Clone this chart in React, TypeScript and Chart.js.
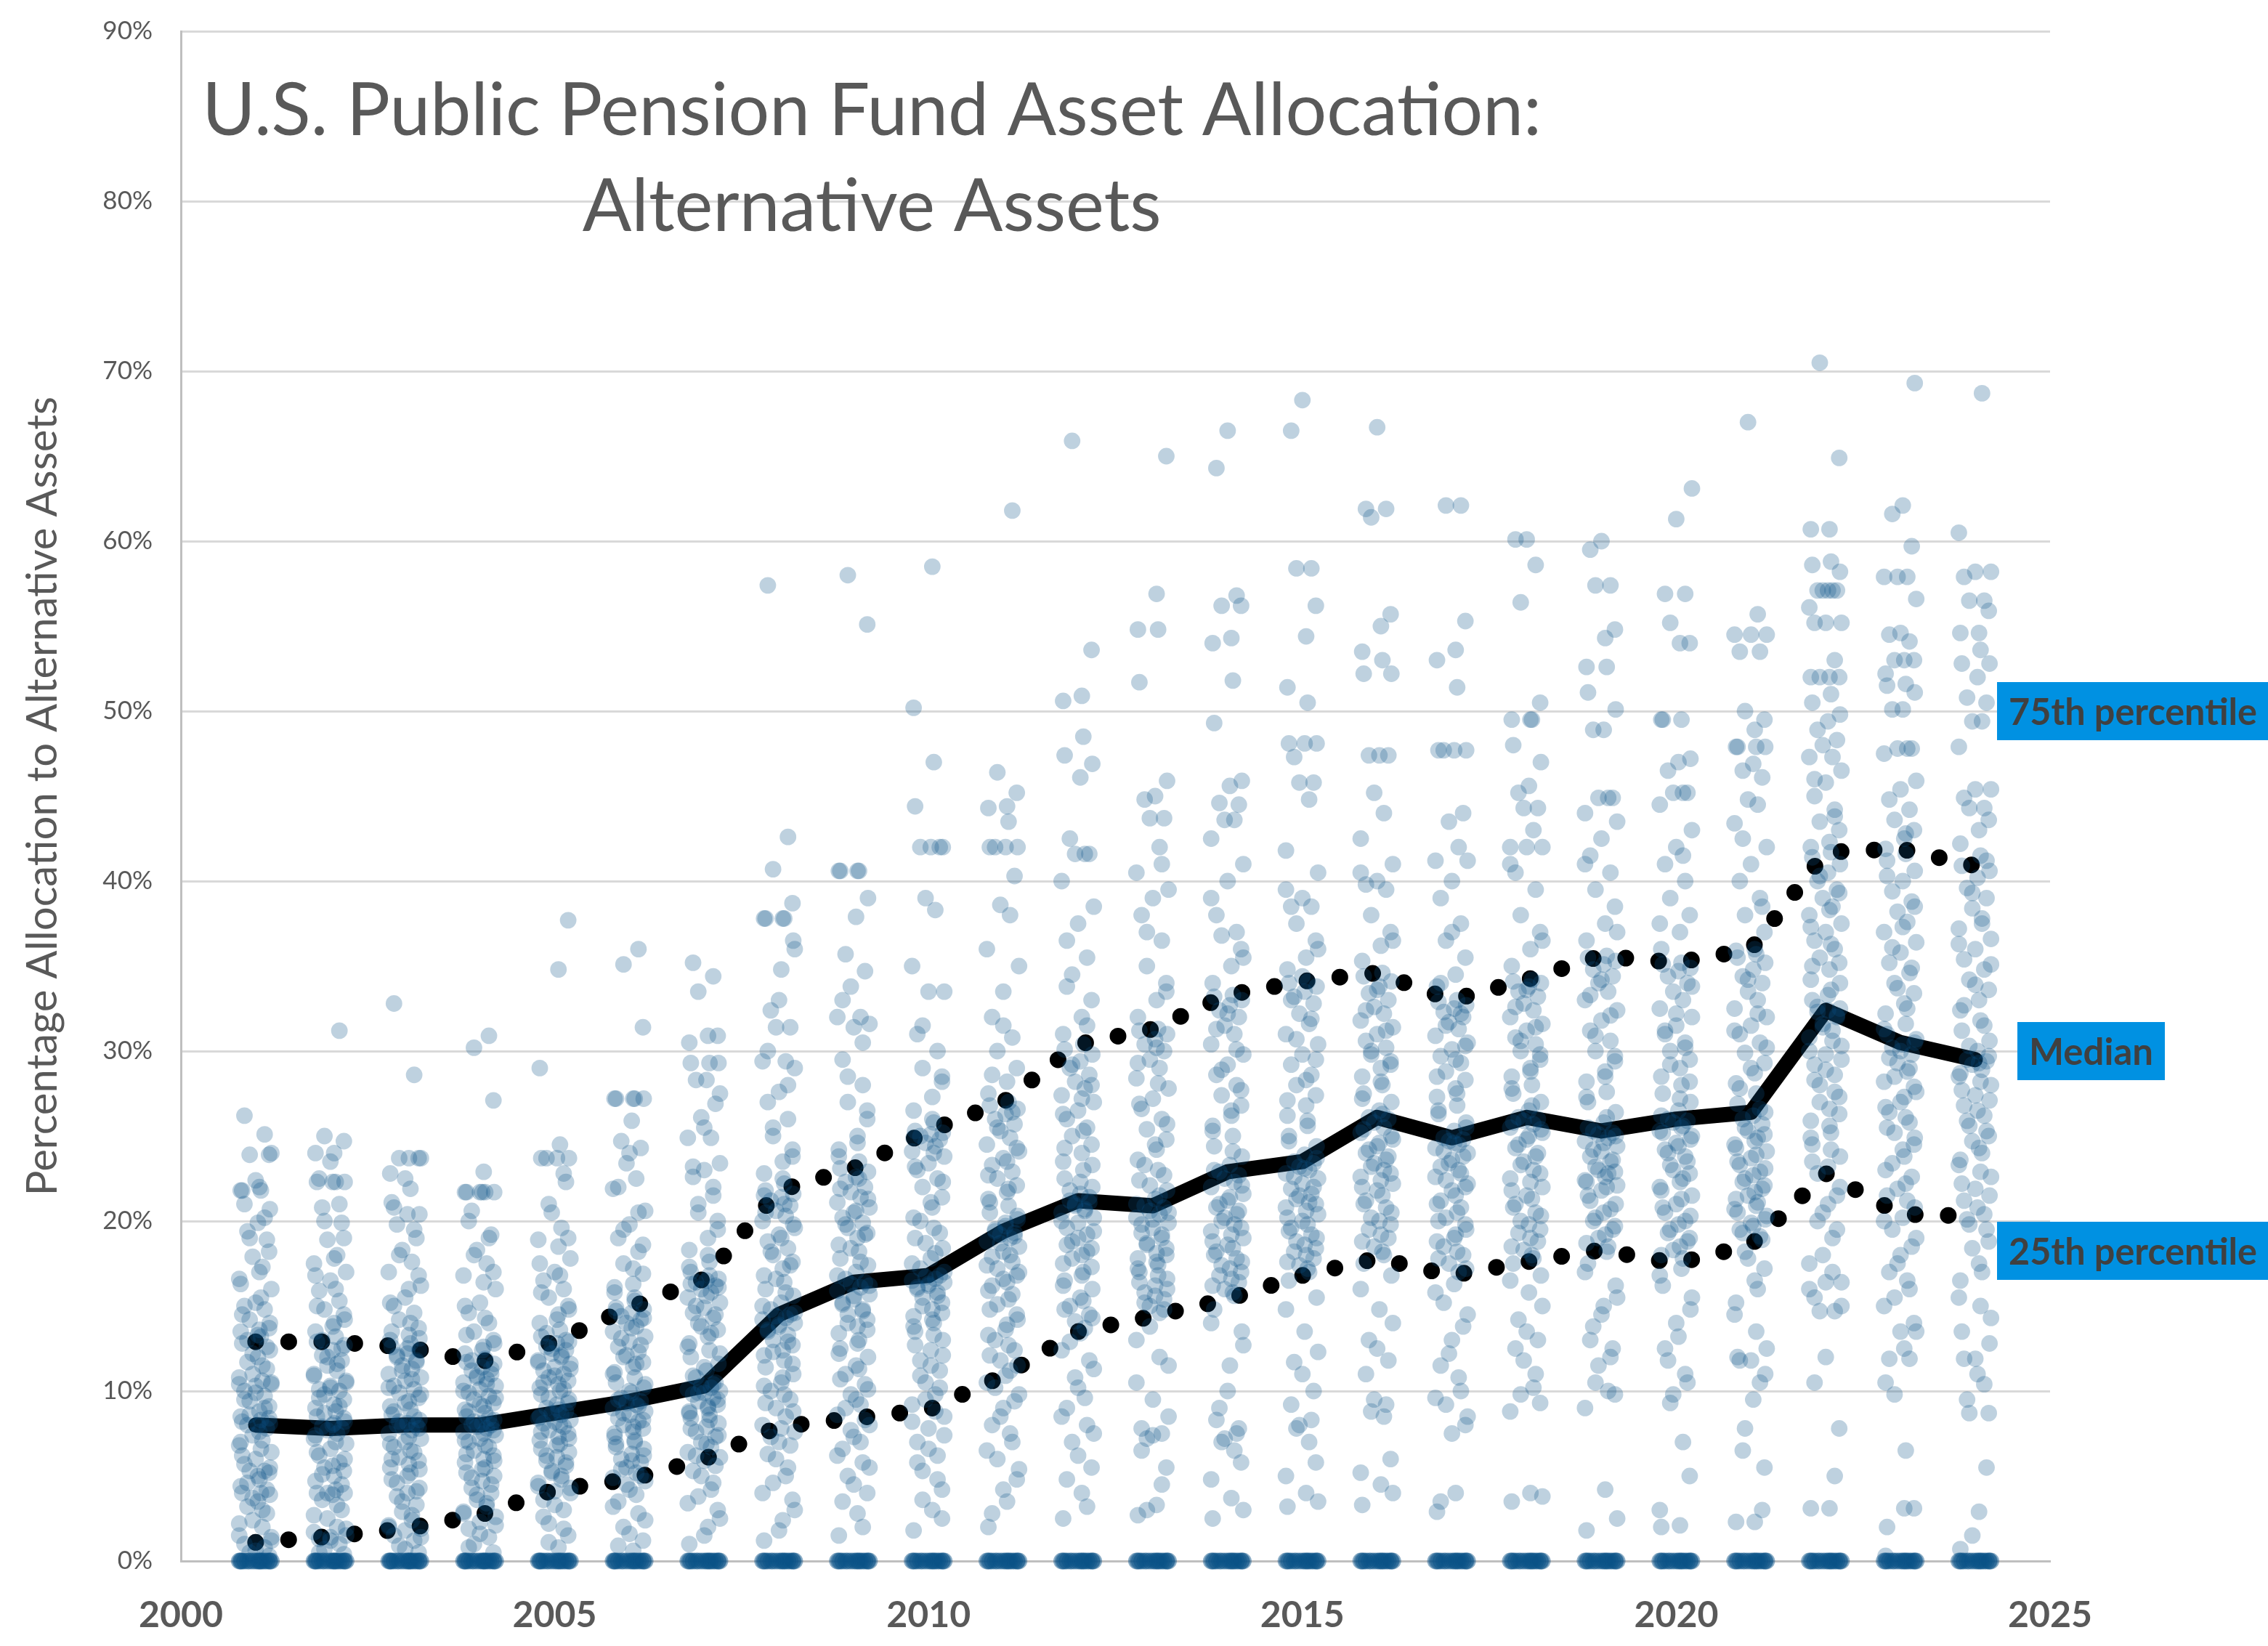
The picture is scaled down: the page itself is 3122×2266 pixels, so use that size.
import React, { useEffect, useRef } from 'react';
import Chart from 'chart.js/auto';

// fiscal years shown on the chart
const YEARS = [2001, 2002, 2003, 2004, 2005, 2006, 2007, 2008, 2009, 2010, 2011, 2012,
  2013, 2014, 2015, 2016, 2017, 2018, 2019, 2020, 2021, 2022, 2023, 2024];

// percentile lines (% of assets in alternatives)
const MEDIAN = [8.0, 7.8, 8.0, 8.0, 8.7, 9.4, 10.3, 14.5, 16.4, 16.8, 19.4, 21.2,
  20.9, 22.9, 23.5, 26.1, 24.9, 26.1, 25.3, 26.0, 26.4, 32.4, 30.5, 29.5];
const P75 = [12.9, 12.9, 12.6, 11.7, 12.9, 14.9, 16.6, 21.8, 23.1, 25.3, 27.0, 30.4,
  31.3, 33.3, 34.1, 34.6, 33.0, 34.2, 35.6, 35.2, 36.0, 41.7, 41.9, 40.9];
const P25 = [1.1, 1.45, 1.9, 2.7, 4.2, 4.8, 6.0, 7.9, 8.4, 8.9, 10.9, 13.5,
  14.4, 15.4, 16.8, 17.8, 16.8, 17.6, 18.3, 17.5, 18.6, 22.8, 20.4, 20.3];

// plans reporting no alternatives at all, per year
const ZERO_COUNTS = [36, 36, 36, 36, 35, 35, 34, 34, 34, 34, 34, 34, 34, 34, 34, 34, 34, 34, 34, 34, 34, 34, 34, 34];

// individual plan allocations above zero, per year
const V2001 = [0.3,0.5,0.8,1.0,1.1,1.2,1.5,2.0,2.4,2.8,3.2,3.5,3.9,4.0,4.0,4.4,4.8,5.2,5.3,5.3,5.7,6.0,6.4,6.8,7.1,7.4,7.8,8.0,8.0,8.1,8.2,8.3,8.5,8.8,9.1,9.4,9.7,10.0,10.3,10.4,10.4,10.6,11.0,11.3,11.7,12.0,12.4,12.8,13.2,13.5,13.6,13.7,14.2,14.8,15.0,15.2,16.0,16.6,17.3,17.9,18.9,19.4,19.9,20.7,21.8,21.8,21.8,22.0,23.9,23.9,25.1,26.2,
  0.6,1.4,2.2,3.0,3.7,4.2,4.6,5.0,5.5,6.2,6.6,7.0,7.6,8.4,8.6,9.0,9.5,9.9,10.5,10.8,11.5,12.2,12.6,13.0,13.3,14.0,14.5,15.5,16.3,17.0,18.2,19.0,20.2,21.0,22.4,24.0];
const V2002 = [0.4,0.7,1.0,1.3,1.4,1.5,1.7,2.0,2.5,3.0,3.6,3.9,4.0,4.0,4.2,4.7,5.0,5.3,5.5,5.8,6.2,6.6,6.9,7.2,7.5,7.7,7.8,7.9,8.0,8.2,8.5,8.8,9.0,9.2,9.5,9.8,10.0,10.1,10.3,10.6,10.9,11.2,11.5,11.8,12.1,12.4,12.7,12.9,13.2,13.5,14.0,14.5,14.8,15.3,15.9,16.5,17.0,17.5,18.0,18.9,19.9,20.8,22.3,22.3,22.3,22.3,24.0,24.0,24.7,25.0,31.2,
  0.5,1.2,1.9,2.7,3.3,4.0,4.5,5.1,5.6,6.0,6.4,7.0,7.4,8.1,8.4,8.7,9.1,9.6,10.2,10.5,11.0,11.6,12.0,12.5,13.0,13.8,14.2,15.0,16.0,16.8,17.8,19.0,20.0,21.0,22.5,23.5];
const V2003 = [0.5,0.9,1.2,1.5,1.8,1.9,2.1,2.4,2.9,3.3,3.8,4.0,4.3,4.8,5.2,5.5,5.7,5.9,6.1,6.4,6.7,7.0,7.2,7.5,7.7,7.9,8.0,8.0,8.1,8.3,8.6,8.9,9.1,9.4,9.6,9.9,10.1,10.3,10.6,10.8,11.0,11.3,11.5,11.8,12.0,12.2,12.4,12.6,12.8,13.0,13.3,13.7,14.2,14.6,15.0,15.5,16.2,17.0,17.6,18.3,19.0,19.8,20.4,20.4,21.1,21.9,22.8,23.7,23.7,23.7,28.6,32.8,
  0.7,1.4,2.0,2.7,3.5,4.1,4.6,5.0,5.4,6.0,6.5,6.9,7.3,7.8,8.2,8.5,8.8,9.3,9.8,10.2,10.7,11.2,11.7,12.1,12.5,13.1,13.5,14.0,15.2,16.0,16.8,18.0,19.5,20.8,22.5,23.7];
const V2004 = [0.5,1.0,1.4,1.9,2.3,2.6,2.8,3.2,3.6,4.0,4.3,4.7,5.0,5.2,5.5,5.8,6.0,6.2,6.5,6.7,7.0,7.2,7.4,7.6,7.8,7.9,8.0,8.0,8.1,8.3,8.5,8.7,8.9,9.1,9.3,9.5,9.7,9.9,10.1,10.3,10.5,10.7,10.8,11.0,11.2,11.4,11.6,11.7,11.9,12.2,12.6,13.0,13.5,14.0,14.6,15.2,16.0,16.8,17.5,18.3,19.2,20.6,21.7,21.7,21.7,21.7,21.7,22.9,27.1,30.2,30.9,
  0.8,1.6,2.1,2.9,3.4,3.9,4.5,4.9,5.4,5.9,6.3,6.8,7.1,7.5,7.7,8.2,8.4,8.8,9.2,9.6,10.0,10.4,10.9,11.3,11.8,12.4,12.8,13.3,14.3,15.0,16.4,17.0,18.0,19.0,20.0,21.7];
const V2005 = [0.8,1.5,2.2,3.0,3.6,4.1,4.3,4.6,5.0,5.3,5.6,5.9,6.1,6.4,6.6,6.9,7.1,7.3,7.5,7.7,7.9,8.1,8.2,8.3,8.4,8.6,8.7,8.8,9.0,9.2,9.5,9.8,10.0,10.2,10.4,10.6,10.8,11.0,11.2,11.4,11.6,11.8,12.0,12.2,12.4,12.6,12.8,12.9,13.2,13.6,14.0,14.5,15.0,15.5,16.0,16.5,17.0,17.8,18.9,19.6,20.5,22.3,23.7,23.7,23.7,23.7,24.5,29.0,34.8,37.7,
  1.1,1.9,2.6,3.3,4.0,4.4,4.8,5.2,5.8,6.2,6.8,7.2,7.6,8.0,8.5,8.9,9.3,9.6,10.1,10.5,10.9,11.3,11.7,12.1,12.5,13.0,13.4,14.2,14.8,15.8,16.8,17.5,18.5,19.0,21.0,22.8];
const V2006 = [0.6,1.2,2.0,2.8,3.5,4.2,4.7,4.9,5.2,5.5,5.8,6.0,6.3,6.6,6.9,7.1,7.3,7.6,7.8,8.0,8.2,8.4,8.6,8.8,9.0,9.2,9.3,9.4,9.6,9.9,10.2,10.5,10.8,11.1,11.4,11.7,12.0,12.3,12.6,12.9,13.2,13.5,13.8,14.0,14.2,14.4,14.6,14.8,14.9,15.3,15.8,16.3,16.9,17.5,18.2,19.0,19.8,20.6,21.9,22.5,23.4,24.3,24.7,25.9,27.2,27.2,27.2,27.2,27.2,31.4,35.1,36.0,
  0.9,1.6,2.4,3.2,3.9,4.5,5.0,5.4,5.9,6.2,6.7,7.0,7.5,7.9,8.3,8.7,9.1,9.5,10.0,10.4,11.0,11.6,12.1,12.7,13.1,13.7,14.3,14.7,15.5,16.1,17.2,18.6,19.5,20.5,22.0,24.0];
const V2007 = [1.0,2.0,3.0,3.8,4.6,5.3,5.9,6.1,6.4,6.7,7.0,7.3,7.6,7.9,8.1,8.4,8.6,8.8,9.0,9.2,9.4,9.6,9.8,9.9,10.0,10.1,10.2,10.3,10.5,10.8,11.2,11.6,12.0,12.4,12.8,13.2,13.6,14.0,14.3,14.6,14.9,15.2,15.5,15.8,16.0,16.2,16.4,16.5,16.6,17.0,17.6,18.3,19.0,20.0,21.0,22.0,22.6,23.0,23.4,24.9,24.9,26.1,26.9,28.3,28.3,29.3,29.3,29.3,30.5,30.9,30.9,33.5,34.4,35.2,
  1.5,2.5,3.4,4.2,5.0,5.6,6.2,6.9,7.4,7.8,8.3,8.7,9.1,9.5,9.9,10.4,10.9,11.4,12.2,12.6,13.4,13.8,14.5,15.0,15.6,16.1,16.3,16.8,17.3,18.0,19.5,20.5,21.5,23.2,25.5,27.5];
const V2008 = [1.2,2.4,3.6,4.6,5.5,6.3,7.0,7.6,8.0,8.5,9.0,9.5,10.0,10.5,11.0,11.4,11.8,12.1,12.4,12.7,13.0,13.3,13.6,13.8,14.0,14.2,14.3,14.4,14.5,14.8,15.2,15.6,16.0,16.4,16.8,17.2,17.6,18.0,18.4,18.8,19.2,19.6,20.0,20.3,20.6,20.9,21.2,21.4,21.6,21.8,22.2,22.8,23.5,24.2,25.0,26.0,27.0,27.6,29.0,29.4,29.4,31.4,31.4,32.4,34.8,36.5,37.8,37.8,37.8,37.8,38.7,40.7,42.6,57.4,
  1.8,3.0,4.0,5.0,6.0,6.8,7.3,7.8,8.8,9.3,9.8,10.3,10.8,11.6,12.3,12.9,13.5,13.9,14.6,15.0,15.8,16.6,17.4,18.2,19.0,19.8,20.5,21.0,21.5,22.5,23.8,25.5,28.0,30.0,33.0,36.0];
const V2009 = [1.5,2.8,4.0,5.0,5.8,6.6,7.3,8.0,8.6,9.2,9.8,10.4,11.0,11.5,12.0,12.5,13.0,13.4,13.8,14.2,14.5,14.8,15.1,15.4,15.7,15.9,16.1,16.3,16.4,16.6,17.0,17.4,17.8,18.2,18.6,19.0,19.3,19.6,19.9,20.2,20.5,20.8,21.1,21.4,21.7,22.0,22.3,22.6,22.9,23.1,23.5,24.2,25.0,26.0,27.0,28.0,29.5,31.4,31.6,32.0,32.0,33.8,34.7,35.7,37.9,39.0,40.6,40.6,40.6,40.6,55.1,58.0,
  2.0,3.5,4.5,5.5,6.2,7.0,7.7,8.3,9.0,9.5,10.1,10.7,11.3,12.2,12.8,13.6,14.0,14.7,15.2,15.6,16.2,16.8,17.6,18.4,19.2,19.8,20.6,21.3,21.9,22.5,23.8,24.6,26.5,28.5,30.5,33.0];
const V2010 = [1.8,3.0,4.2,5.3,6.2,7.0,7.8,8.5,9.2,9.8,10.5,11.2,11.8,12.4,13.0,13.5,14.0,14.4,14.8,15.2,15.5,15.8,16.0,16.2,16.4,16.5,16.6,16.7,16.8,17.2,17.8,18.4,19.0,19.6,20.2,20.8,21.4,22.0,22.5,23.0,23.4,23.8,24.1,24.4,24.6,24.8,25.0,25.1,25.2,25.3,25.8,26.5,27.3,28.2,29.0,30.0,31.0,33.5,33.5,35.0,38.3,39.0,42.0,42.0,42.0,42.0,44.4,47.0,50.2,58.5,
  2.5,3.6,4.8,5.8,6.6,7.4,8.2,8.8,9.5,10.2,10.9,11.5,12.1,12.7,13.3,13.8,14.2,14.6,15.0,15.6,16.1,16.3,17.0,17.5,18.1,18.7,19.3,20.0,21.1,22.3,23.2,24.0,24.9,26.0,28.5,31.5];
const V2011 = [2.0,3.5,4.8,6.0,7.0,8.0,9.0,9.8,10.5,11.2,11.8,12.4,13.0,13.6,14.2,14.8,15.4,15.9,16.4,16.8,17.2,17.6,17.9,18.2,18.5,18.8,19.0,19.2,19.3,19.4,19.7,20.1,20.5,20.9,21.3,21.7,22.1,22.5,22.9,23.3,23.7,24.1,24.5,24.9,25.3,25.7,26.0,26.3,26.6,26.8,27.0,27.5,28.2,29.0,30.0,30.8,32.0,33.5,35.0,36.0,38.0,38.6,40.3,42.0,42.0,42.0,42.0,43.5,44.3,44.4,45.2,46.4,61.8,
  2.8,4.2,5.4,6.5,7.5,8.5,9.4,10.2,10.9,11.5,12.1,12.7,13.3,13.9,14.5,15.1,15.7,16.2,16.6,17.0,17.4,18.0,18.7,19.1,19.5,19.9,20.3,21.1,21.9,22.7,23.5,24.3,25.5,26.4,28.6,31.5];
const V2012 = [2.5,4.0,5.5,7.0,8.0,9.0,10.2,11.3,12.4,13.7,14.1,14.5,15.0,15.5,16.0,16.5,17.0,17.5,18.0,18.4,18.8,19.2,19.6,19.9,20.2,20.5,20.7,20.9,21.1,21.2,21.6,22.0,22.5,23.0,23.5,24.0,24.5,25.0,25.5,26.0,26.5,27.0,27.4,27.8,28.2,28.6,29.0,29.4,29.8,30.1,30.4,31.0,32.0,33.0,34.5,35.5,36.5,37.5,38.5,40.0,41.6,41.6,41.6,42.5,46.1,46.9,47.4,48.5,50.6,50.9,53.6,65.9,
  3.2,4.8,6.2,7.5,8.5,9.6,10.8,11.8,12.9,13.4,14.3,14.8,15.3,16.2,16.8,17.3,17.8,18.2,18.6,19.0,19.4,20.0,20.6,21.0,21.4,21.8,22.3,23.3,24.3,25.3,26.3,27.2,28.0,29.2,31.5,33.8];
const V2013 = [2.7,3.3,5.5,7.2,7.5,7.8,9.5,11.5,13.0,14.6,15.0,15.4,15.8,16.2,16.6,17.0,17.4,17.8,18.1,18.4,18.7,19.0,19.3,19.6,19.9,20.2,20.4,20.6,20.8,20.9,21.3,21.8,22.4,23.0,23.6,24.2,24.8,25.4,26.0,26.6,27.2,27.8,28.4,29.0,29.5,30.0,30.4,30.7,31.0,31.2,31.3,32.0,33.0,34.0,35.0,36.5,38.0,39.0,39.5,40.5,42.0,43.7,43.7,44.8,45.0,45.9,51.7,54.8,54.8,56.9,65.0,
  3.0,4.5,6.5,7.4,8.5,10.5,12.0,13.8,14.8,15.2,15.6,16.0,16.4,16.8,17.2,17.6,18.0,18.6,19.2,19.8,20.1,20.5,21.0,21.5,22.1,22.7,23.3,24.5,25.7,26.9,28.1,29.3,30.2,33.5,37.0,41.0];
const V2014 = [2.5,3.7,5.8,7.0,7.5,8.3,10.0,12.7,14.0,15.6,16.0,16.4,16.8,17.2,17.6,18.0,18.4,18.8,19.2,19.6,20.0,20.4,20.8,21.2,21.6,22.0,22.3,22.5,22.7,22.9,23.3,23.8,24.4,25.0,25.6,26.2,26.8,27.4,28.0,28.6,29.2,29.8,30.4,31.0,31.5,32.0,32.4,32.7,33.0,33.2,33.3,34.0,35.0,36.0,36.8,37.0,38.0,40.0,41.0,42.5,43.6,43.6,44.5,44.6,45.6,45.9,49.3,51.8,54.0,54.3,56.2,56.2,56.8,64.3,66.5,
  3.0,4.8,6.5,7.2,7.8,9.0,11.5,13.5,14.8,15.8,16.2,16.6,17.0,17.4,17.8,18.2,18.6,19.0,19.4,19.8,20.2,20.6,21.0,21.4,22.1,23.0,24.1,25.3,26.5,27.7,28.9,30.1,31.3,32.2,35.5,39.0];
const V2015 = [3.2,4.0,5.8,7.8,8.3,9.2,11.0,12.3,14.8,17.0,17.4,17.8,18.2,18.6,19.0,19.4,19.8,20.2,20.6,21.0,21.3,21.6,21.9,22.2,22.5,22.8,23.0,23.2,23.4,23.5,23.9,24.4,25.0,25.6,26.2,26.8,27.4,28.0,28.6,29.2,29.8,30.4,31.0,31.6,32.2,32.8,33.2,33.5,33.8,34.0,34.1,34.8,35.5,36.5,37.5,38.5,38.5,39.0,40.5,41.8,44.8,45.8,45.8,47.3,48.1,48.1,48.1,50.5,51.4,54.4,56.2,58.4,58.4,66.5,68.3,
  3.5,5.0,7.0,8.0,10.0,11.7,13.5,15.5,16.5,17.2,17.6,18.0,18.4,18.8,19.2,19.6,20.0,20.4,20.8,21.1,21.5,22.0,22.6,23.1,23.7,24.7,25.9,27.1,28.3,29.5,30.7,31.9,33.0,34.4,36.0,39.5];
const V2016 = [3.3,4.5,6.0,8.8,9.2,11.0,12.5,14.0,16.0,18.0,18.5,19.0,19.5,20.0,20.5,21.0,21.5,22.0,22.4,22.8,23.2,23.6,24.0,24.4,24.8,25.2,25.5,25.8,26.0,26.1,26.5,27.0,27.5,28.0,28.5,29.0,29.4,29.8,30.2,30.6,31.0,31.4,31.8,32.2,32.6,33.0,33.4,33.8,34.1,34.4,34.6,35.3,36.2,37.0,38.0,39.5,39.8,40.0,41.0,42.5,44.0,45.2,47.4,47.4,47.4,52.2,52.2,53.0,53.5,55.0,55.7,61.4,61.9,61.9,66.7,
  4.0,5.2,8.5,9.5,11.8,13.0,14.8,16.8,17.5,18.2,18.8,19.2,19.8,20.2,20.8,21.2,21.8,22.2,22.6,23.0,23.4,23.8,24.2,24.6,25.0,25.4,26.3,27.2,28.2,29.2,30.0,31.2,32.4,33.6,36.5,40.5];
const V2017 = [2.9,4.0,8.0,9.2,10.0,11.5,13.0,14.5,15.8,17.0,17.5,18.0,18.5,19.0,19.5,20.0,20.5,21.0,21.5,22.0,22.4,22.8,23.2,23.6,24.0,24.3,24.5,24.7,24.8,24.9,25.3,25.8,26.3,26.8,27.3,27.8,28.3,28.8,29.3,29.7,30.1,30.5,30.9,31.3,31.7,32.0,32.3,32.5,32.7,32.9,33.0,33.8,34.5,35.5,36.5,37.5,39.0,40.0,41.2,41.2,42.0,43.5,44.0,47.7,47.7,47.7,47.7,51.4,53.0,53.6,55.3,62.1,62.1,
  3.5,7.5,8.5,9.6,10.8,12.2,13.8,15.2,16.3,17.2,17.8,18.2,18.8,19.2,19.8,20.2,20.8,21.2,21.8,22.2,22.6,23.0,23.4,23.8,24.1,24.6,25.5,26.5,27.5,28.5,29.5,30.3,31.5,32.2,34.0,37.0];
const V2018 = [3.5,4.0,9.3,9.8,11.0,12.5,13.5,15.0,16.5,17.8,18.3,18.8,19.3,19.8,20.3,20.8,21.3,21.8,22.3,22.8,23.3,23.8,24.3,24.8,25.2,25.5,25.7,25.9,26.0,26.1,26.5,27.0,27.5,28.0,28.5,29.0,29.5,30.0,30.4,30.8,31.2,31.6,32.0,32.4,32.8,33.2,33.5,33.8,34.0,34.1,34.2,35.0,36.0,37.0,38.0,39.5,40.5,42.0,42.0,42.0,43.0,44.3,44.3,45.2,45.6,47.0,48.0,49.5,49.5,49.5,50.5,56.4,58.6,60.1,60.1,
  3.8,8.8,10.2,11.8,13.0,14.2,15.8,16.8,17.5,18.0,18.5,19.0,19.5,20.0,20.5,21.0,21.5,22.0,22.5,23.0,23.5,24.0,24.5,25.0,25.4,25.8,26.8,27.8,28.8,29.8,30.6,31.4,32.6,33.6,36.5,41.0];
const V2019 = [1.8,4.2,9.8,10.5,12.0,13.0,14.5,15.5,17.0,18.5,19.0,19.5,20.0,20.5,21.0,21.5,22.0,22.3,22.6,22.9,23.2,23.5,23.8,24.1,24.4,24.7,24.9,25.1,25.2,25.3,25.8,26.4,27.0,27.6,28.2,28.8,29.4,30.0,30.6,31.2,31.8,32.4,33.0,33.5,34.0,34.4,34.8,35.1,35.3,35.5,35.6,36.5,37.5,38.5,39.5,40.5,41.5,42.5,43.5,44.0,44.9,44.9,44.9,48.9,48.9,50.1,51.1,52.6,52.6,54.3,54.8,57.4,57.4,59.5,60.0,
  2.5,9.0,10.0,11.5,12.5,13.8,15.0,16.2,17.5,18.2,18.7,19.2,19.7,20.2,20.7,21.2,21.8,22.1,22.4,22.8,23.0,23.6,24.2,24.6,25.0,25.5,26.1,27.3,28.5,29.7,30.9,32.1,33.3,34.2,37.0,41.0];
const V2020 = [2.0,2.1,5.0,9.3,11.0,12.5,14.0,15.5,16.8,17.8,18.3,18.8,19.3,19.8,20.3,20.8,21.3,21.8,22.3,22.8,23.3,23.8,24.2,24.6,25.0,25.3,25.6,25.8,25.9,26.0,26.5,27.0,27.5,28.0,28.5,29.0,29.5,30.0,30.5,31.0,31.5,32.0,32.5,33.0,33.5,34.0,34.4,34.7,34.9,35.1,35.2,36.0,37.0,38.0,39.0,40.0,41.0,42.0,43.0,44.5,45.2,45.2,45.2,46.5,47.0,47.2,49.5,49.5,49.5,54.0,54.0,55.2,56.9,56.9,61.3,63.1,
  3.0,7.0,9.8,10.5,11.8,13.2,14.8,16.2,17.2,18.0,18.5,19.0,19.5,20.0,20.5,21.0,21.5,22.0,22.5,23.0,23.5,24.0,24.4,24.8,25.2,25.5,26.2,27.2,28.2,29.2,30.2,31.2,32.2,33.8,37.5,41.5];
const V2021 = [2.3,2.3,5.5,7.8,10.5,11.8,11.8,12.5,14.5,16.0,17.8,18.9,19.3,19.7,20.1,20.5,20.9,21.3,21.7,22.1,22.5,22.9,23.3,23.7,24.1,24.5,24.9,25.3,25.7,26.0,26.2,26.4,26.9,27.5,28.1,28.7,29.3,29.9,30.5,31.0,31.5,32.0,32.5,33.0,33.5,34.0,34.4,34.8,35.2,35.5,35.7,35.9,36.0,37.0,38.0,39.0,40.0,41.0,42.0,43.4,44.5,44.8,46.1,46.5,46.9,47.9,47.9,47.9,47.9,48.9,49.5,50.0,53.5,53.5,54.5,54.5,54.5,55.7,67.0,
  3.0,6.5,9.5,11.0,12.0,13.5,15.2,16.5,17.2,18.2,19.1,19.5,19.9,20.3,20.7,21.1,21.5,21.9,22.3,22.7,23.1,23.5,23.9,24.3,24.7,25.1,25.5,26.6,27.8,29.0,30.2,31.2,32.2,34.2,38.5,42.5];
const V2022 = [3.1,3.1,7.8,14.7,14.7,15.5,16.4,16.4,17.5,19.0,20.5,21.5,22.8,23.2,23.8,24.5,25.2,25.9,26.6,27.3,28.0,28.6,29.2,29.8,30.3,30.8,31.2,31.6,32.0,32.3,32.4,32.5,33.0,33.6,34.2,34.8,35.2,35.5,36.0,36.5,37.0,37.5,38.0,38.5,39.0,39.5,40.0,40.5,41.0,41.4,41.7,42.0,42.3,43.0,43.5,44.2,45.0,45.8,46.5,47.3,47.3,48.0,48.3,48.9,49.4,49.8,50.5,51.0,52.0,52.0,52.0,52.0,53.0,55.2,55.2,55.2,56.1,57.1,57.1,57.1,57.1,57.1,58.2,58.6,58.8,60.7,60.7,64.9,70.5,
  5.0,10.5,12.0,15.0,16.0,17.0,18.0,19.5,20.0,21.0,22.0,23.5,24.2,24.9,25.6,26.3,27.0,27.6,28.3,28.9,29.5,30.0,30.6,31.4,32.1,32.6,33.3,34.0,35.0,36.3,37.3,38.3,39.3,40.3,43.8,46.0];
const V2023 = [0.3,3.1,3.1,9.8,11.9,11.9,13.5,13.5,15.0,16.5,17.5,18.5,19.5,20.2,20.8,21.5,22.2,23.0,23.8,24.5,25.2,25.8,26.4,27.0,27.6,28.2,28.8,29.3,29.8,30.2,30.4,30.5,31.0,31.6,32.2,32.8,33.4,34.0,34.6,35.2,35.8,36.4,37.0,37.6,38.2,38.8,39.4,40.0,40.6,41.2,41.6,41.9,42.5,43.0,43.6,44.2,44.8,45.4,45.9,47.5,47.8,47.8,47.8,50.1,50.1,51.1,51.5,51.6,52.2,53.0,53.0,53.0,54.1,54.5,54.6,56.6,57.9,57.9,57.9,59.7,61.6,62.1,69.3,
  2.0,6.5,10.5,12.5,14.0,15.5,16.0,17.0,18.0,19.0,20.0,21.2,21.9,22.6,23.4,24.2,24.9,25.5,26.1,26.7,27.3,27.9,28.5,29.0,29.6,30.0,30.7,31.3,32.5,33.7,34.9,36.1,37.3,38.5,40.3,42.8];
const V2024 = [0.7,2.9,8.7,8.7,10.4,11.9,11.9,14.3,15.5,17.0,18.4,19.5,20.1,20.8,21.5,22.2,22.9,23.6,24.3,25.0,25.6,26.2,26.8,27.4,28.0,28.5,28.9,29.2,29.4,29.5,30.0,30.6,31.2,31.8,32.4,33.0,33.6,34.2,34.8,35.4,36.0,36.6,37.2,37.8,38.4,39.0,39.6,40.2,40.6,40.9,41.5,42.2,43.0,43.6,44.3,44.3,44.9,45.4,45.4,47.9,49.4,49.4,50.5,50.8,52.0,52.8,52.8,53.6,54.6,54.6,55.9,56.5,56.5,57.9,58.2,58.2,60.5,68.7,
  1.5,5.5,9.5,11.0,12.8,13.5,15.0,16.5,17.5,18.8,19.8,20.4,21.2,21.9,22.6,23.3,24.0,24.7,25.3,25.9,26.5,27.1,27.7,28.2,28.7,29.3,29.7,30.3,31.5,32.7,33.9,35.1,36.3,37.5,39.3,41.2];

const ALLOCATIONS = [V2001, V2002, V2003, V2004, V2005, V2006, V2007, V2008, V2009, V2010, V2011, V2012,
  V2013, V2014, V2015, V2016, V2017, V2018, V2019, V2020, V2021, V2022, V2023, V2024];

// horizontal spread of the dots around each year (years)
const JITTER = [-0.2, 0.05, 0.18, -0.08, 0.12, -0.15, 0.0, 0.21, -0.22, 0.09, -0.04, 0.15, -0.11, 0.03, 0.19, -0.18, 0.07];

const TITLE = ['U.S. Public Pension Fund Asset Allocation:', 'Alternative Assets'];
const SERIES_LABELS = ['75th percentile', 'Median', '25th percentile'];
const SERIES_LABEL_VALUES = [50, 30, 18.25];

const GRAY = '#595959';

const overlay = {
  id: 'overlay',
  afterDatasetsDraw(chart: any) {
    const { ctx, chartArea, scales } = chart;
    const y = scales.y;
    ctx.save();

    // title inside the plot
    ctx.fillStyle = GRAY;
    ctx.textAlign = 'center';
    ctx.textBaseline = 'alphabetic';
    ctx.font = '100px Lato';
    const cx = chartArea.left + chartArea.width * 0.3697;
    ctx.fillText(TITLE[0], cx, chartArea.top + 143, 1857);
    ctx.fillText(TITLE[1], cx, chartArea.top + 275, 797);

    // boxed labels at the right end of the lines
    const boxes = [
      { x: chartArea.right - 73, w: chart.width - chartArea.right + 73, tw: 342 },
      { x: chartArea.right - 45, w: 203, tw: 171 },
      { x: chartArea.right - 73, w: chart.width - chartArea.right + 73, tw: 342 },
    ];
    ctx.font = 'bold 52px Lato';
    ctx.textAlign = 'left';
    ctx.textBaseline = 'middle';
    SERIES_LABELS.forEach((label, i) => {
      const cy = y.getPixelForValue(SERIES_LABEL_VALUES[i]);
      const b = boxes[i];
      ctx.fillStyle = '#0091E2';
      ctx.fillRect(b.x, cy - 40, b.w, 80);
      ctx.fillStyle = '#404040';
      ctx.fillText(label, b.x + 16, cy + 2, b.tw);
    });
    ctx.restore();
  },
};

const App: React.FC = () => {
  const chartRef = useRef<HTMLCanvasElement>(null);

  useEffect(() => {
    document.body.style.margin = '0';
    if (chartRef.current) {
      const plans: { x: number; y: number }[] = [];
      YEARS.forEach((year, i) => {
        const values = [...new Array(ZERO_COUNTS[i]).fill(0), ...ALLOCATIONS[i]];
        values.forEach((v, j) => plans.push({ x: year + JITTER[j % JITTER.length], y: v }));
      });
      const line = (vals: number[]) => YEARS.map((x, i) => ({ x, y: vals[i] }));

      const chartInstance = new Chart(chartRef.current, {
        type: 'scatter',
        data: {
          datasets: [
            {
              label: 'Plans',
              data: plans,
              pointRadius: 11.4,
              pointHoverRadius: 11.4,
              backgroundColor: 'rgba(10,82,135,0.265)',
              borderWidth: 0,
              clip: false,
              order: 0,
            },
            {
              label: 'Median',
              type: 'line',
              data: line(MEDIAN),
              showLine: true,
              borderColor: '#000000',
              borderWidth: 21,
              borderCapStyle: 'round',
              borderJoinStyle: 'round',
              pointRadius: 0,
              fill: false,
              order: 1,
            },
            {
              label: '75th percentile',
              type: 'line',
              data: line(P75),
              showLine: true,
              borderColor: '#000000',
              borderWidth: 23,
              borderDash: [0, 45.5],
              borderCapStyle: 'round',
              pointRadius: 0,
              fill: false,
              order: 1,
            },
            {
              label: '25th percentile',
              type: 'line',
              data: line(P25),
              showLine: true,
              borderColor: '#000000',
              borderWidth: 23,
              borderDash: [0, 45.5],
              borderCapStyle: 'round',
              pointRadius: 0,
              fill: false,
              order: 1,
            },
          ],
        } as any,
        options: {
          responsive: false,
          animation: false,
          devicePixelRatio: 1,
          events: [],
          layout: { padding: { top: 43, right: 300, bottom: 0, left: 0 } },
          plugins: {
            legend: { display: false },
            tooltip: { enabled: false },
          },
          scales: {
            x: {
              type: 'linear',
              min: 2000,
              max: 2025,
              ticks: {
                stepSize: 5,
                padding: 45,
                color: GRAY,
                font: { family: 'Lato', size: 50, weight: 'bold' },
                callback: (v: any) => String(v),
              },
              grid: { display: false, drawTicks: false },
              border: { display: true, color: '#BFBFBF', width: 3 },
              afterFit: (s: any) => { s.height = 117; },
            },
            y: {
              min: 0,
              max: 90,
              ticks: {
                stepSize: 10,
                padding: 0,
                color: GRAY,
                font: { family: 'Lato', size: 35 },
                callback: (v: any) => v + '%',
              },
              grid: {
                color: '#D9D9D9',
                lineWidth: 3,
                drawTicks: true,
                tickLength: 39,
                tickColor: 'rgba(0,0,0,0)',
              },
              border: { color: '#BFBFBF', width: 3 },
              title: {
                display: true,
                text: 'Percentage Allocation to Alternative Assets',
                color: GRAY,
                font: { family: 'Lato', size: 58 },
                padding: { top: 24, bottom: 0 },
              },
              afterFit: (s: any) => { s.width = 249; },
            },
          },
        } as any,
        plugins: [overlay],
      });

      return () => {
        chartInstance.destroy();
      };
    }
  }, []);

  return <canvas ref={chartRef} width={3122} height={2266} />;
};

export default App;
